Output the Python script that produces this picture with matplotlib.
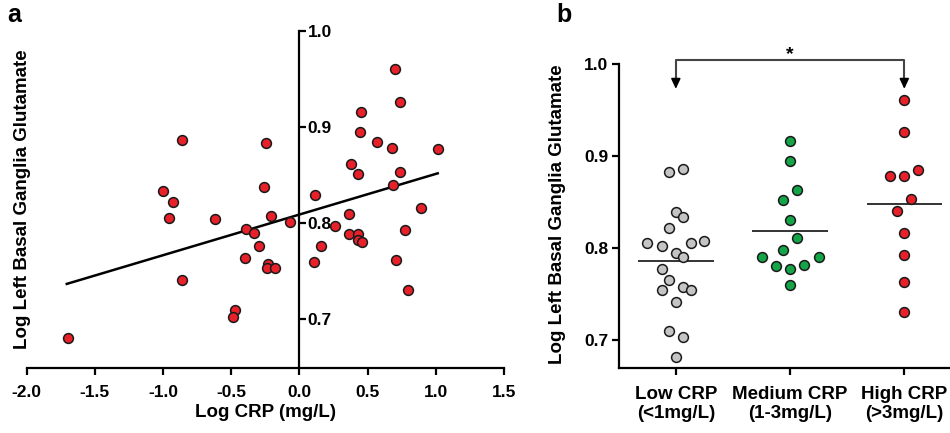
"""
Two-panel figure: (a) scatter of log CRP vs log left basal ganglia glutamate
with a linear fit, (b) glutamate by CRP group with group means.
"""

import numpy as np
import matplotlib.pyplot as plt

plt.rcParams.update({
    "font.family":      ["Liberation Sans", "DejaVu Sans"],
    "font.weight":      "bold",
    "axes.labelweight": "bold",
    "axes.linewidth":   1.6,
    "xtick.major.width": 1.6,
    "ytick.major.width": 1.6,
    "xtick.major.size":  5,
    "ytick.major.size":  5,
})

# ── Panel a data ──────────────────────────────────────────────────────────────
log_crp = [
    -1.699, -0.858, -1.002, -0.924, -0.956, -0.858, -0.621, -0.472, -0.484,
    -0.389, -0.330, -0.401, -0.298, -0.247, -0.262, -0.210, -0.232, -0.240,
    -0.176, -0.066, 0.117, 0.110, 0.156, 0.259, 0.367, 0.376, 0.433, 0.367,
    0.433, 0.433, 0.462, 0.445, 0.452, 0.570, 0.682, 0.684, 0.704, 0.738,
    0.738, 0.777, 0.711, 0.794, 0.892, 1.014,
]
log_glu = [
    0.681, 0.887, 0.834, 0.822, 0.805, 0.741, 0.804, 0.710, 0.702,
    0.794, 0.790, 0.764, 0.776, 0.883, 0.838, 0.808, 0.758, 0.753,
    0.753, 0.801, 0.829, 0.760, 0.776, 0.797, 0.810, 0.862, 0.851, 0.789,
    0.789, 0.782, 0.780, 0.895, 0.916, 0.885, 0.878, 0.840, 0.960, 0.926,
    0.853, 0.793, 0.762, 0.731, 0.816, 0.877,
]
fit_slope     = 0.0423
fit_intercept = 0.809
fit_x_range   = [-1.706, 1.014]

# ── Panel b data ──────────────────────────────────────────────────────────────
groups = ["Low CRP\n(<1mg/L)", "Medium CRP\n(1-3mg/L)", "High CRP\n(>3mg/L)"]
low_glu = [0.883, 0.886, 0.839, 0.834, 0.822, 0.805, 0.802, 0.805, 0.808, 0.795,
           0.790, 0.777, 0.765, 0.754, 0.758, 0.754, 0.741, 0.710, 0.703, 0.682]
low_dx  = [-0.056, 0.067, 0.0, 0.067, -0.056, -0.249, -0.120, 0.129, 0.249, 0.0,
           0.067, -0.120, -0.056, -0.120, 0.067, 0.129, 0.0, -0.056, 0.067, 0.0]
med_glu = [0.916, 0.895, 0.863, 0.852, 0.830, 0.811, 0.798, 0.790, 0.790,
           0.781, 0.777, 0.782, 0.760]
med_dx  = [0.0, 0.0, 0.058, -0.058, 0.0, 0.058, -0.058, -0.243, 0.249,
           -0.126, 0.0, 0.126, 0.0]
high_glu = [0.961, 0.926, 0.878, 0.878, 0.885, 0.853, 0.840, 0.816, 0.793,
            0.763, 0.731]
high_dx  = [0.0, 0.0, -0.129, 0.0, 0.120, 0.061, -0.064, 0.0, 0.0, 0.0, 0.0]
group_means = [0.786, 0.819, 0.848]

RED   = "#e8202a"
GREEN = "#14a548"
GREY  = "#c4c4c4"
EDGE  = "#1a1a1a"

fig = plt.figure(figsize=(9.5, 4.33), dpi=100)

# ═════════════════════════════════════════════════════════════════════════════
# Panel a
# ═════════════════════════════════════════════════════════════════════════════
ax = fig.add_axes([0.0281, 0.1494, 0.5024, 0.779])
ax.scatter(log_crp, log_glu, s=50, color=RED, edgecolor=EDGE,
           linewidth=1.1, zorder=3, clip_on=False)
fx = np.array(fit_x_range)
ax.plot(fx, fit_intercept + fit_slope * fx, color="black", lw=1.8, zorder=2)

ax.set_xlim(-2.0, 1.5)
ax.set_ylim(0.649, 1.0)
ax.spines["left"].set_visible(False)
ax.spines["top"].set_visible(False)
ax.spines["right"].set_position(("data", 0))
ax.yaxis.tick_right()
ax.set_yticks([0.7, 0.8, 0.9, 1.0])
ax.set_yticklabels(["0.7", "0.8", "0.9", "1.0"])
ax.set_xticks([-2.0, -1.5, -1.0, -0.5, 0.0, 0.5, 1.0, 1.5])
ax.set_xticklabels(["-2.0", "-1.5", "-1.0", "-0.5", "0.0", "0.5", "1.0", "1.5"])
ax.tick_params(axis="both", direction="out", labelsize=12.5)
ax.tick_params(axis="x", pad=7)
ax.tick_params(axis="y", pad=1)
ax.set_xlabel("Log CRP (mg/L)", fontsize=13.5, labelpad=3)
ax.set_ylabel("Log Left Basal Ganglia Glutamate", fontsize=13.5)
ax.yaxis.set_label_position("left")
ax.yaxis.set_label_coords(0.009, 0.5)
fig.text(0.008, 0.965, "a", fontsize=18, fontweight="bold", va="center")

# ═════════════════════════════════════════════════════════════════════════════
# Panel b
# ═════════════════════════════════════════════════════════════════════════════
bx = fig.add_axes([0.652, 0.1508, 0.348, 0.765])
pos = np.arange(len(groups))
for i, (vals, dx, col) in enumerate([(low_glu, low_dx, GREY),
                                     (med_glu, med_dx, GREEN),
                                     (high_glu, high_dx, RED)]):
    bx.scatter(pos[i] + np.array(dx), vals, s=50, color=col, edgecolor=EDGE,
               linewidth=1.1, zorder=3, clip_on=False)
    bx.hlines(group_means[i], pos[i] - 0.33, pos[i] + 0.33,
              color="#333333", lw=1.4, zorder=2)

bx.set_xlim(-0.494, 2.40)
bx.set_ylim(0.670, 1.03)
bx.spines["top"].set_visible(False)
bx.spines["right"].set_visible(False)
bx.spines["left"].set_bounds(0.670, 1.0)
bx.set_yticks([0.7, 0.8, 0.9, 1.0])
bx.set_yticklabels(["0.7", "0.8", "0.9", "1.0"])
bx.set_xticks(pos)
bx.set_xticklabels(groups, fontsize=13.5, linespacing=1.15)
bx.tick_params(axis="y", direction="out", labelsize=12.5, pad=3)
bx.tick_params(axis="x", direction="out", pad=8)
bx.set_ylabel("Log Left Basal Ganglia Glutamate", fontsize=13.5)
bx.yaxis.set_label_coords(-0.163, 0.464)

# significance bracket between low and high groups
bracket_y = 1.0043
arrow_tip = 0.970
bx.plot([pos[0], pos[0], pos[2], pos[2]],
        [arrow_tip + 0.012, bracket_y, bracket_y, arrow_tip + 0.012],
        color="#444444", lw=1.5, clip_on=False)
for p in (pos[0], pos[2]):
    bx.annotate("", xy=(p, arrow_tip), xytext=(p, arrow_tip + 0.015),
                arrowprops=dict(arrowstyle="-|>,head_width=0.28,head_length=0.6",
                                color="black", lw=1.2),
                annotation_clip=False)
bx.text((pos[0] + pos[2]) / 2, 1.001, "*", ha="center", va="bottom",
        fontsize=14, fontweight="bold")
fig.text(0.586, 0.965, "b", fontsize=18, fontweight="bold", va="center")

fig.savefig("out.png", dpi=100)
